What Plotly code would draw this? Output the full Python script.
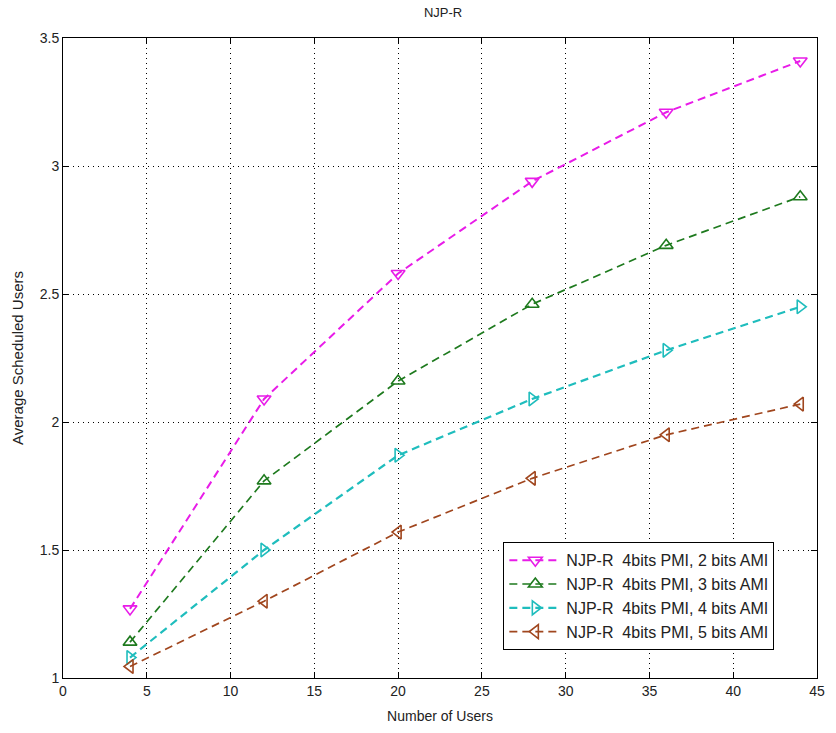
import plotly.graph_objects as go

# Number of users in the cell
users = [4, 12, 20, 28, 36, 44]

# Average number of scheduled users for each AMI feedback size (4-bit PMI)
ami2 = [1.27, 2.09, 2.58, 2.94, 3.21, 3.41]
ami3 = [1.14, 1.77, 2.16, 2.46, 2.69, 2.88]
ami4 = [1.08, 1.50, 1.87, 2.09, 2.28, 2.45]
ami5 = [1.045, 1.30, 1.57, 1.78, 1.95, 2.07]

series_names = [
    "NJP-R  4bits PMI, 2 bits AMI",
    "NJP-R  4bits PMI, 3 bits AMI",
    "NJP-R  4bits PMI, 4 bits AMI",
    "NJP-R  4bits PMI, 5 bits AMI",
]

x_ticks = [0, 5, 10, 15, 20, 25, 30, 35, 40, 45]
y_ticks = [1, 1.5, 2, 2.5, 3, 3.5]

styles = [
    dict(color="#E81CE8", symbol="triangle-down-open", width=2),
    dict(color="#1E7A1E", symbol="triangle-up-open", width=1.7),
    dict(color="#1FBDBD", symbol="triangle-right-open", width=2.2),
    dict(color="#A0461E", symbol="triangle-left-open", width=1.7),
]

fig = go.Figure()
for name, ys, st in zip(series_names, [ami2, ami3, ami4, ami5], styles):
    fig.add_trace(go.Scatter(
        x=users, y=ys, name=name, mode="lines+markers",
        line=dict(color=st["color"], width=st["width"], dash="8px,5px"),
        marker=dict(symbol=st["symbol"], size=12, color=st["color"],
                    line=dict(width=1.6, color=st["color"])),
    ))

axis_font = dict(family="Liberation Sans, Arial, sans-serif", size=14, color="#222")

fig.update_layout(
    width=836, height=733,
    margin=dict(l=63, r=11, t=38, b=53),
    paper_bgcolor="white", plot_bgcolor="white",
    font=axis_font,
    title=dict(text="NJP-R", x=0.53, xanchor="center", y=0.983, yanchor="middle",
               font=dict(size=13, color="#222")),
    legend=dict(
        x=0.584, y=0.212, xanchor="left", yanchor="top",
        bgcolor="white", bordercolor="black", borderwidth=1,
        font=dict(size=16, color="#222"),
        tracegroupgap=0, itemwidth=52,
    ),
    showlegend=True,
)

grid_dash = "1px,4px"

fig.update_xaxes(
    range=[0, 45], tickvals=x_ticks, ticktext=[str(v) for v in x_ticks],
    ticks="inside", ticklen=6, tickcolor="black",
    showline=True, linecolor="black", linewidth=1, mirror="ticks",
    showgrid=True, gridcolor="black", griddash=grid_dash, gridwidth=1.3,
    zeroline=False,
    title=dict(text="Number of Users", standoff=13, font=dict(size=14)),
)
fig.update_yaxes(
    range=[1, 3.5], tickvals=y_ticks, ticktext=[str(v) if v % 1 else str(int(v)) for v in y_ticks],
    ticks="inside", ticklen=6, tickcolor="black",
    showline=True, linecolor="black", linewidth=1, mirror="ticks",
    showgrid=True, gridcolor="black", griddash=grid_dash, gridwidth=1.3,
    zeroline=False,
    title=dict(text="Average Scheduled Users", standoff=12, font=dict(size=15)),
)

fig.write_html("out.html")
